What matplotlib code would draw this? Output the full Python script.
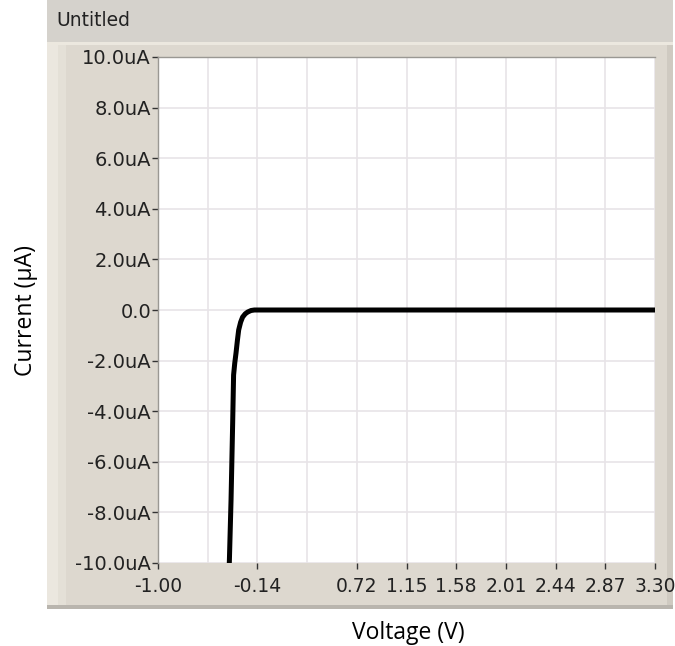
import matplotlib
matplotlib.use("Agg")
import matplotlib.pyplot as plt
from matplotlib.patches import Rectangle
import numpy as np

# I-V sweep of the diode (voltage in V, current in uA)
voltage = [-0.395, -0.383, -0.368, -0.354, -0.346, -0.336, -0.325, -0.313,
           -0.302, -0.285, -0.268, -0.245, -0.224, -0.195, -0.166, 0.5, 1.5, 2.5, 3.30]
current = [-10.6, -10.0, -7.5, -4.47, -2.57, -2.1, -1.70, -1.2,
           -0.79, -0.48, -0.28, -0.15, -0.08, -0.02, 0.0, 0.0, 0.0, 0.0, 0.0]

x_ticks = [-1.00, -0.14, 0.72, 1.15, 1.58, 2.01, 2.44, 2.87, 3.30]
x_tick_labels = ["-1.00", "-0.14", "0.72", "1.15", "1.58", "2.01", "2.44", "2.87", "3.30"]
x_minor = [-0.57, 0.29]
y_ticks = [10, 8, 6, 4, 2, 0, -2, -4, -6, -8, -10]
y_tick_labels = ["10.0uA", "8.0uA", "6.0uA", "4.0uA", "2.0uA", "0.0",
                 "-2.0uA", "-4.0uA", "-6.0uA", "-8.0uA", "-10.0uA"]

W, H = 675, 646
fig = plt.figure(figsize=(W / 100, H / 100), dpi=100)
fig.patch.set_facecolor("white")


def fx(px):
    return px / W


def fy(py):
    return 1 - py / H


def rect(x0, y0, x1, y1, color):
    fig.patches.append(Rectangle((fx(x0), fy(y1)), fx(x1) - fx(x0), fy(y0) - fy(y1),
                                 transform=fig.transFigure, facecolor=color,
                                 edgecolor="none", zorder=-10))


# graph panel frame
rect(47, 0, 673, 609, "#ddd8cf")
rect(47, 0, 673, 42, "#d5d2cc")          # title bar
rect(47, 42, 673, 45, "#ece8df")
rect(47, 45, 58, 607, "#ebe7df")         # lighter left rim
rect(58, 45, 66, 607, "#e4e0d7")
rect(667, 45, 673, 609, "#cfcac1")       # right shadow
rect(47, 605, 673, 609, "#b9b5ae")       # bottom shadow
fig.text(fx(56), fy(20), "Untitled", fontsize=13.5, color="#222222",
         va="center", ha="left", family="DejaVu Sans")

left, right, top, bottom = 158, 655, 57, 563
ax = fig.add_axes([fx(left), fy(bottom), fx(right) - fx(left), fy(top) - fy(bottom)])
ax.set_zorder(1)
ax.set_facecolor("white")
ax.set_xlim(-1.00, 3.30)
ax.set_ylim(-10, 10)

ax.plot(voltage, current, color="black", lw=3.6, solid_capstyle="butt",
        solid_joinstyle="round", clip_on=True, zorder=3)

ax.set_xticks(x_ticks)
ax.set_xticklabels(x_tick_labels)
ax.set_xticks(x_minor, minor=True)
ax.set_yticks(y_ticks)
ax.set_yticklabels(y_tick_labels)
ax.grid(True, which="both", color="#e8e4e8", lw=1.2, zorder=0)
ax.set_axisbelow(True)

ax.tick_params(axis="y", which="major", direction="out", length=4, width=1,
               color="#333333", labelsize=14, labelcolor="#222222", pad=1)
ax.tick_params(axis="x", which="major", direction="out", length=4, width=1,
               color="#333333", labelsize=13.5, labelcolor="#222222", pad=6)
ax.tick_params(axis="x", which="minor", length=0)
for lbl in ax.get_xticklabels() + ax.get_yticklabels():
    lbl.set_family("DejaVu Sans")

for side in ["top", "left"]:
    ax.spines[side].set_color("#9a9893")
    ax.spines[side].set_linewidth(1)
for side in ["bottom", "right"]:
    ax.spines[side].set_visible(False)

fig.text(fx(26), fy(311), "Current (\u00b5A)", rotation=90, fontsize=16.5,
         va="center", ha="center", family="Open Sans", color="black")
fig.text(fx(408), fy(633), "Voltage (V)", fontsize=16.5,
         va="center", ha="center", family="Open Sans", color="black")

fig.savefig("out.png", dpi=100, facecolor="white")
